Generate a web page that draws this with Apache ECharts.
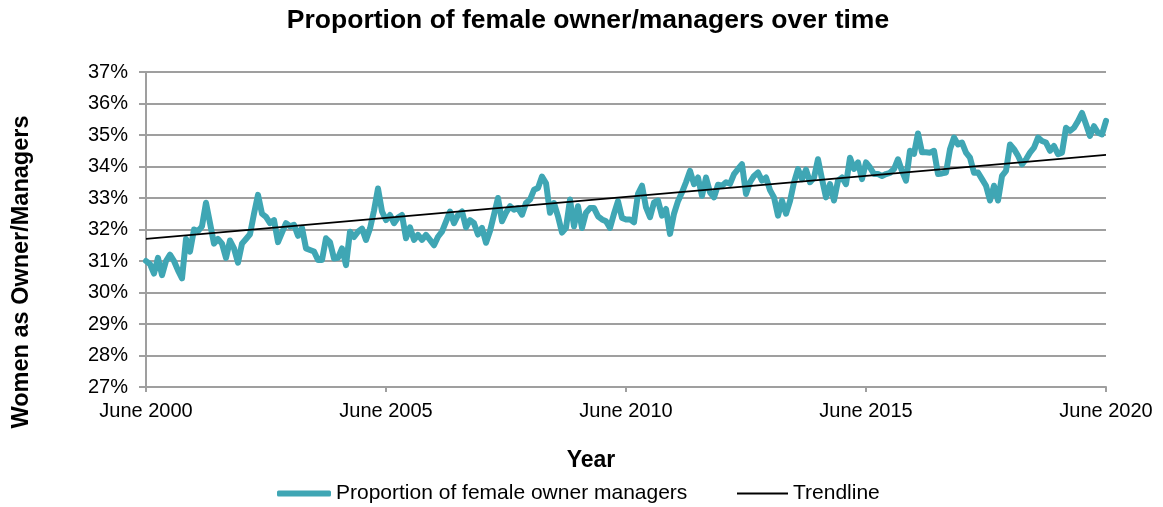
<!DOCTYPE html>
<html>
<head>
<meta charset="utf-8">
<script src="https://cdn.jsdelivr.net/npm/echarts@6/dist/echarts.min.js"></script>
<style>
html,body{margin:0;padding:0;background:#ffffff;}
#chart{width:1163px;height:507px;}
</style>
</head>
<body>
<div id="chart"></div>
<script>
// ---- Data ----
const monthNames = ['January','February','March','April','May','June','July','August','September','October','November','December'];
const firstYear = 2000;      // series starts June 2000
const firstMonthIndex = 5;   // June
const monthCount = 241;      // June 2000 .. June 2020
const tickEvery = 60;        // a label every five years

// monthly proportion (%) of female owner/managers
const share2000to2005 = [
  31.0, 30.9, 30.6, 31.1, 30.55, 31.0, 31.2, 31.0, 30.7, 30.45,
  31.7, 31.3, 32.0, 31.95, 32.1, 32.85, 32.2, 31.55, 31.7, 31.55,
  31.1, 31.65, 31.4, 30.95, 31.55, 31.7, 31.85, 32.5, 33.1, 32.5,
  32.4, 32.2, 32.3, 31.6, 31.9, 32.2, 32.1, 32.15, 31.8, 32.05,
  31.4, 31.35, 31.3, 31.03, 31.03, 31.72, 31.6, 31.08, 31.1, 31.4,
  30.87, 31.93, 31.76, 31.93, 32.03, 31.67, 32.03, 32.6, 33.3, 32.57
];
const share2005to2010 = [
  32.3, 32.46, 32.2, 32.38, 32.46, 31.72, 32.07, 31.67, 31.83, 31.67,
  31.83, 31.67, 31.5, 31.77, 31.93, 32.25, 32.57, 32.2, 32.46, 32.57,
  32.07, 32.3, 32.2, 31.84, 32.05, 31.58, 31.95, 32.47, 33.0, 32.26,
  32.53, 32.74, 32.63, 32.68, 32.47, 32.84, 32.95, 33.26, 33.32, 33.68,
  33.47, 32.53, 32.84, 32.42, 31.9, 32.05, 32.95, 32.1, 32.74, 32.05,
  32.53, 32.68, 32.68, 32.42, 32.32, 32.26, 32.05, 32.5, 32.9, 32.37
];
const share2010to2015 = [
  32.32, 32.32, 32.23, 33.13, 33.39, 32.7, 32.39, 32.86, 32.92, 32.44,
  32.65, 31.86, 32.5, 32.9, 33.18, 33.5, 33.86, 33.44, 33.65, 33.07,
  33.65, 33.18, 33.02, 33.42, 33.39, 33.5, 33.45, 33.76, 33.92, 34.07,
  33.13, 33.5, 33.7, 33.81, 33.55, 33.65, 33.25, 33.02, 32.44, 32.92,
  32.5, 32.9, 33.5, 33.92, 33.6, 33.9, 33.5, 33.65, 34.23, 33.6,
  33.02, 33.44, 32.92, 33.55, 33.65, 33.44, 34.28, 33.92, 34.13, 33.6
];
const share2015to2020 = [
  34.13, 33.97, 33.76, 33.76, 33.7, 33.76, 33.8, 33.92, 34.23, 33.86,
  33.55, 34.5, 34.4, 35.05, 34.45, 34.45, 34.44, 34.5, 33.76, 33.78,
  33.81, 34.55, 34.92, 34.7, 34.76, 34.44, 34.28, 33.8, 33.81, 33.6,
  33.39, 32.92, 33.39, 32.92, 33.7, 33.86, 34.7, 34.55, 34.34, 34.07,
  34.23, 34.44, 34.6, 34.92, 34.81, 34.76, 34.5, 34.65, 34.39, 34.44,
  35.23, 35.13, 35.23, 35.44, 35.7, 35.34, 34.97, 35.28, 35.07, 35.02,
  35.45
];
// trendline value at the first and last month
const trendline = [31.70, 34.37];

const seriesNames = ['Proportion of female owner managers', 'Trendline'];

// ---- Build ----
const months = [];
for (let k = 0; k < monthCount; k++) {
  const m = firstMonthIndex + k;
  months.push(monthNames[m % 12] + ' ' + (firstYear + Math.floor(m / 12)));
}
const shares = share2000to2005.concat(share2005to2010, share2010to2015, share2015to2020);
const trendData = [[months[0], trendline[0]], [months[monthCount - 1], trendline[1]]];

const FONT = "'Liberation Sans', Arial, Helvetica, sans-serif";
const GRID_COLOR = '#9f9f9f';
const TEAL = '#3fa6b4';

const legendText = {fontFamily: FONT, fontSize: 21, color: '#000'};

const chart = echarts.init(document.getElementById('chart'), null, {renderer: 'canvas'});
chart.setOption({
  backgroundColor: '#ffffff',
  animation: false,
  textStyle: {fontFamily: FONT},
  title: {
    text: 'Proportion of female owner/managers over time',
    left: 588, top: 7, padding: 0,
    textAlign: 'center',
    textStyle: {fontFamily: FONT, fontSize: 26.5, fontWeight: 'bold', color: '#000'}
  },
  grid: {left: 146, right: 57, top: 72, bottom: 120, containLabel: false},
  legend: [
    {
      data: [{name: seriesNames[0], icon: 'roundRect'}],
      left: 277, top: 483, padding: 0,
      itemWidth: 54, itemHeight: 6,
      itemStyle: {color: TEAL, borderWidth: 0},
      textStyle: legendText
    },
    {
      data: [{name: seriesNames[1], icon: 'rect'}],
      left: 737, top: 483, padding: 0,
      itemWidth: 51, itemHeight: 2,
      itemStyle: {color: '#000', borderWidth: 0},
      textStyle: legendText
    }
  ],
  xAxis: {
    type: 'category',
    data: months,
    boundaryGap: false,
    axisLine: {show: true, lineStyle: {color: GRID_COLOR, width: 2}},
    axisTick: {show: true, interval: tickEvery - 1, length: 5, lineStyle: {color: GRID_COLOR, width: 2}},
    axisLabel: {interval: tickEvery - 1, margin: 14, fontFamily: FONT, fontSize: 20, color: '#000'},
    splitLine: {show: false}
  },
  yAxis: {
    type: 'value',
    min: 27, max: 37, interval: 1,
    axisLine: {show: true, lineStyle: {color: GRID_COLOR, width: 2}},
    axisTick: {show: true, length: 7, lineStyle: {color: GRID_COLOR, width: 2}},
    axisLabel: {formatter: '{value}%', margin: 18, fontFamily: FONT, fontSize: 20, color: '#000'},
    splitLine: {show: true, lineStyle: {color: GRID_COLOR, width: 2}}
  },
  graphic: [
    {type: 'text', x: 591, y: 461, style: {text: 'Year', font: 'bold 23px ' + FONT, fill: '#000', textAlign: 'center', textVerticalAlign: 'middle'}},
    {type: 'text', x: 22, y: 272, rotation: Math.PI / 2, style: {text: 'Women as Owner/Managers', font: 'bold 23.5px ' + FONT, fill: '#000', textAlign: 'center', textVerticalAlign: 'middle'}}
  ],
  series: [
    {
      name: seriesNames[0], type: 'line', data: shares,
      symbol: 'none', showSymbol: false, smooth: false,
      lineStyle: {color: TEAL, width: 6, join: 'round', cap: 'round'},
      itemStyle: {color: TEAL},
      z: 2
    },
    {
      name: seriesNames[1], type: 'line', data: trendData,
      symbol: 'none', showSymbol: false,
      lineStyle: {color: '#000', width: 1.8},
      itemStyle: {color: '#000'},
      z: 3
    }
  ]
});
</script>
</body>
</html>
